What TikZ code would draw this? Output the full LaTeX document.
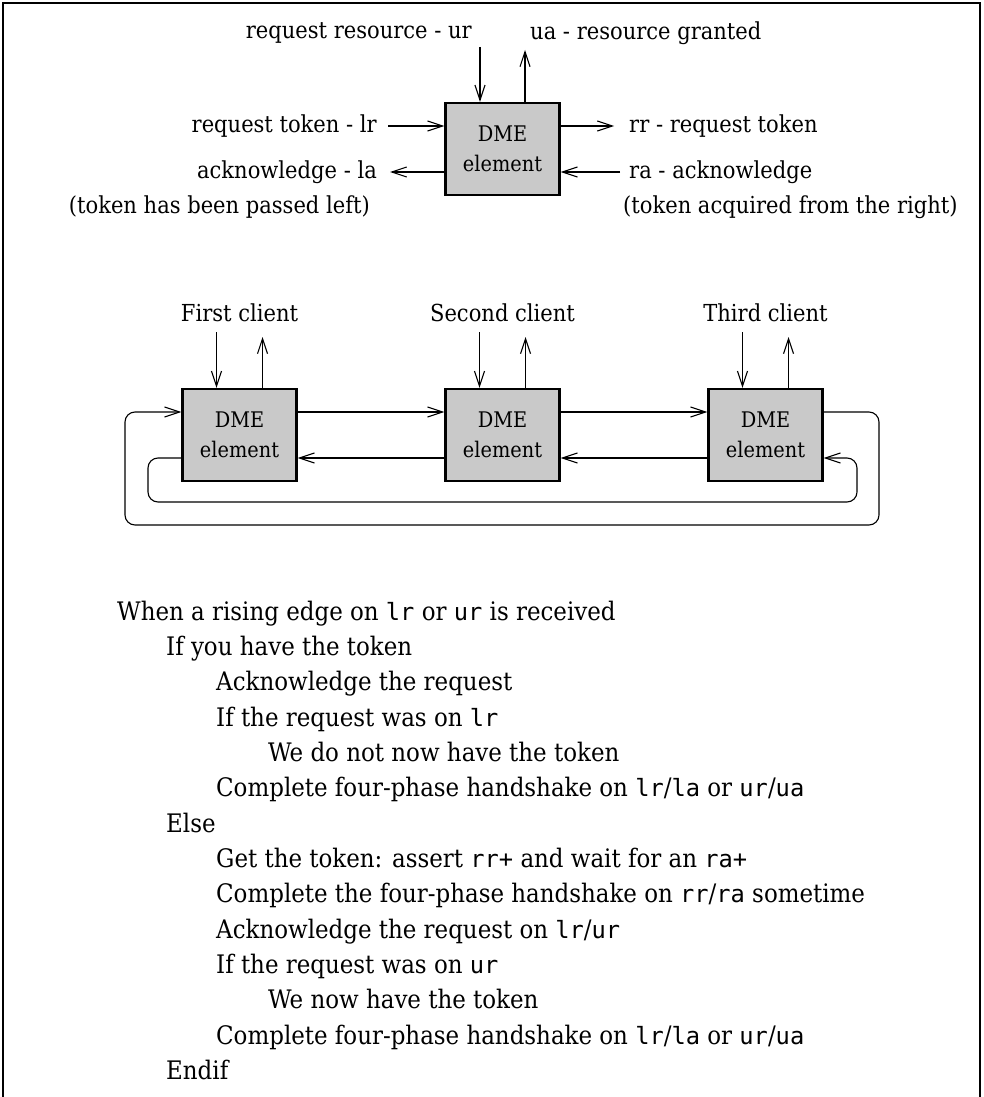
\documentclass[tikz,border=0pt]{standalone}
\usepackage{fontspec}
\setmainfont{DejaVu Serif Condensed}
\setmonofont{DejaVu Sans Mono}[Scale=0.93]
\usetikzlibrary{arrows.meta}

\begin{document}
\begin{tikzpicture}[x=1pt,y=-1pt,
  conn/.style={line width=1.1pt, -{Straight Barb[length=15pt,width=10pt,line width=1.1pt]}},
  dme/.style={draw, line width=2.4pt, fill=black!21, minimum width=114pt,
    minimum height=92pt, align=center, inner sep=0pt,
    font=\fontsize{21.5}{30}\selectfont},
  lbl/.style={inner sep=0pt, font=\fontsize{23.4}{26}\selectfont},
  code/.style={inner sep=0pt, anchor=base west, font=\fontsize{25.5}{28}\selectfont}]

\useasboundingbox (0,0) rectangle (983,1097);

% frame
\draw[line width=1.2pt] (3,1097) -- (3,3) -- (980,3) -- (980,1097);

% ---------- single element with its interface ----------
\node[dme] (top) at (502.5,149) {DME\\element};

\coordinate (urS) at (480,47);
\coordinate (uaE) at (525,50);
\draw[conn] (urS) -- (urS |- top.north);
\draw[conn] (uaE |- top.north) -- (uaE);
\node[lbl, anchor=east] (urL) at (472,33) {request resource - ur};
\node[lbl, anchor=west] (uaL) at (530,33) {ua - resource granted};

\node[lbl, anchor=east] (lrL) at (377,126) {request token - lr};
\node[lbl, anchor=east] (laL) at (377,172) {acknowledge - la};
\node[lbl, anchor=east] (laN) at (370,207) {(token has been passed left)};
\draw[conn] ([xshift=11pt]lrL.east) -- (lrL.east -| top.west);
\draw[conn] (laL.east -| top.west) -- ([xshift=13pt]laL.east);

\node[lbl, anchor=west] (rrL) at (629,126) {rr - request token};
\node[lbl, anchor=west] (raL) at (629,172) {ra - acknowledge};
\node[lbl, anchor=west] (raN) at (623,207) {(token acquired from the right)};
\draw[conn] (rrL.west -| top.east) -- ([xshift=-15pt]rrL.west);
\draw[conn] ([xshift=-9pt]raL.west) -- (raL.west -| top.east);

% ---------- ring of three elements ----------
\node[dme] (b1) at (239.5,435) {DME\\element};
\node[dme] (b2) at (502.5,435) {DME\\element};
\node[dme] (b3) at (765.5,435) {DME\\element};

\foreach \b/\t in {b1/First client, b2/Second client, b3/Third client}{
  \node[lbl] (\b c) at ([yshift=122pt]\b.center) {\t};
  \coordinate (\b d) at ([xshift=-23pt,yshift=103pt]\b.center);
  \coordinate (\b u) at ([xshift=23pt,yshift=98pt]\b.center);
  \draw[conn] (\b d) -- (\b d |- \b.north);
  \draw[conn] (\b u |- \b.north) -- (\b u);
}

\coordinate (r1) at (0,412);
\coordinate (r2) at (0,458);
\draw[conn] (b1.east |- r1) -- (b2.west |- r1);
\draw[conn] (b2.east |- r1) -- (b3.west |- r1);
\draw[conn] (b2.west |- r2) -- (b1.east |- r2);
\draw[conn] (b3.west |- r2) -- (b2.east |- r2);

% wrap-around links
\coordinate (oR) at (879,525);
\coordinate (oL) at (125,525);
\coordinate (iR) at (857,502);
\coordinate (iL) at (148,502);
\draw[conn, rounded corners=10pt] (b3.east |- r1) -| (oR) -- (oL) |- (b1.west |- r1);
\draw[conn, rounded corners=10pt] (b1.west |- r2) -| (iL) -- (iR) |- (b3.east |- r2);

% ---------- behaviour ----------
\node[code] (c0)  at (117,620)  {When a rising edge on \texttt{lr} or \texttt{ur} is received};
\node[code] (c1)  at (166,655)  {If you have the token};
\node[code] (c2)  at (216,690)  {Acknowledge the request};
\node[code] (c3)  at (216,726)  {If the request was on \texttt{lr}};
\node[code] (c4)  at (268,761)  {We do not now have the token};
\node[code] (c5)  at (216,796)  {Complete four-phase handshake on \texttt{lr}/\texttt{la} or \texttt{ur}/\texttt{ua}};
\node[code] (c6)  at (166,832)  {Else};
\node[code] (c7)  at (216,867)  {Get the token: assert \texttt{rr+} and wait for an \texttt{ra+}};
\node[code] (c8)  at (216,902)  {Complete the four-phase handshake on \texttt{rr}/\texttt{ra} sometime};
\node[code] (c9)  at (216,938)  {Acknowledge the request on \texttt{lr}/\texttt{ur}};
\node[code] (c10) at (216,973)  {If the request was on \texttt{ur}};
\node[code] (c11) at (268,1008) {We now have the token};
\node[code] (c12) at (216,1044) {Complete four-phase handshake on \texttt{lr}/\texttt{la} or \texttt{ur}/\texttt{ua}};
\node[code] (c13) at (166,1079) {Endif};

\end{tikzpicture}
\end{document}
